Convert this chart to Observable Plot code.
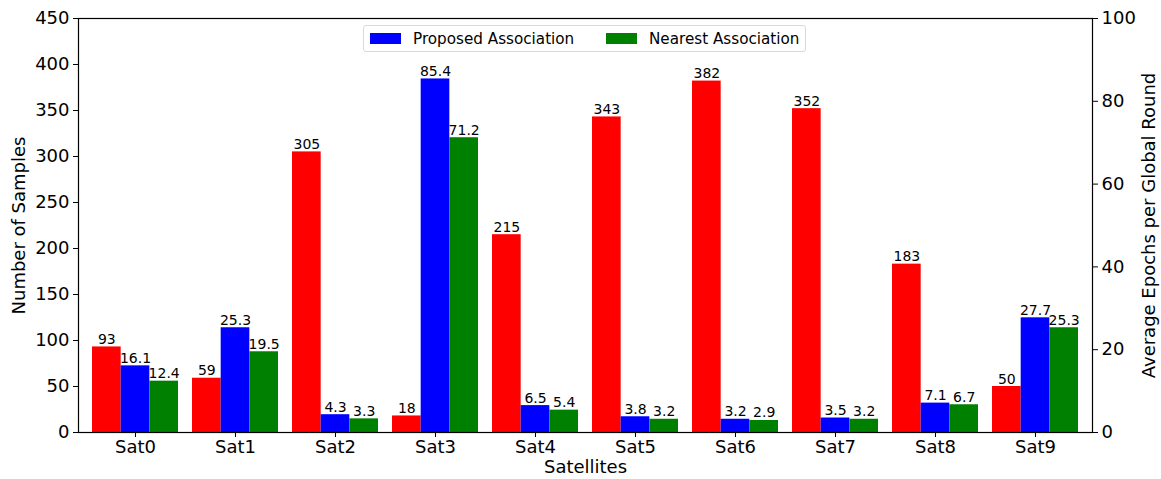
<!DOCTYPE html>
<html>
<head>
<meta charset="utf-8">
<script src="https://cdn.jsdelivr.net/npm/d3@7"></script>
<script src="https://cdn.jsdelivr.net/npm/@observablehq/plot@0.6"></script>
<style>
  html, body { margin: 0; padding: 0; background: #fff; }
  #wrap { position: relative; width: 1161px; height: 479px; font-family: "DejaVu Sans", sans-serif; }
  #legend { position: absolute; left: 363px; top: 25px; width: 443px; height: 27px; border: 1px solid #d9d9d9; border-radius: 3px; background: rgba(255,255,255,0.8); box-sizing: border-box; font-size: 15.2px; color: #000; }
  .item { position: absolute; top: 0; height: 25px; display: flex; align-items: center; }
  .sw { width: 31px; height: 11px; margin-right: 12px; }
</style>
</head>
<body>
<div id="wrap">
  <div id="chart"></div>
  <div id="legend"></div>
</div>
<script>
const satellites = ["Sat0","Sat1","Sat2","Sat3","Sat4","Sat5","Sat6","Sat7","Sat8","Sat9"];
const samples = [93, 59, 305, 18, 215, 343, 382, 352, 183, 50];
const proposed = [16.1, 25.3, 4.3, 85.4, 6.5, 3.8, 3.2, 3.5, 7.1, 27.7];
const nearest = [12.4, 19.5, 3.3, 71.2, 5.4, 3.2, 2.9, 3.2, 6.7, 25.3];
const leftTicks = [0, 50, 100, 150, 200, 250, 300, 350, 400, 450];
const rightTicks = [0, 20, 40, 60, 80, 100];
const seriesNames = ["Proposed Association", "Nearest Association"];
const colors = ["red", "blue", "green"];

const leftMax = 450, rightMax = 100;
const k = leftMax / rightMax; // map right-axis values into left-axis units

const rows = satellites.map((s, i) => ({sat: s, samples: samples[i], proposed: proposed[i], nearest: nearest[i]}));

const bw = 86 / 3;
function series(field, idx, scale, fmt) {
  const inL = idx * bw, inR = (2 - idx) * bw;
  return [
    Plot.barY(rows, {x: "sat", y: d => d[field] * scale, fill: colors[idx], insetLeft: inL, insetRight: inR}),
    Plot.text(rows, {x: "sat", y: d => d[field] * scale, text: d => fmt(d[field]), dx: (idx - 1) * bw, dy: -3, lineAnchor: "bottom", fontSize: 14, fill: "black"})
  ];
}

const chart = Plot.plot({
  width: 1161,
  height: 479,
  marginLeft: 78,
  marginRight: 69,
  marginTop: 18,
  marginBottom: 47,
  style: {fontFamily: "DejaVu Sans, sans-serif", fontSize: "16px", color: "black", background: "white"},
  x: {domain: satellites, padding: 0.14, label: null},
  y: {domain: [0, leftMax], label: null},
  marks: [
    ...series("samples", 0, 1, d => String(d)),
    ...series("proposed", 1, k, d => d.toFixed(1)),
    ...series("nearest", 2, k, d => d.toFixed(1)),
    Plot.frame({stroke: "black", strokeWidth: 1.2}),
    Plot.axisX({tickSize: 5, tickPadding: 3, fontSize: 18, tickFormat: d => d}),
    Plot.axisX({ticks: [], tickSize: 0, label: "Satellites", labelAnchor: "center", labelOffset: 40, labelArrow: "none", fontSize: 18}),
    Plot.axisY({ticks: leftTicks, tickSize: 5, tickPadding: 4, fontSize: 18}),
    Plot.axisY({ticks: [], tickSize: 0, label: "Number of Samples", labelAnchor: "center", labelOffset: 66, labelArrow: "none", fontSize: 18}),
    Plot.axisY({anchor: "right", ticks: rightTicks.map(v => v * k), tickFormat: v => String(Math.round(v / k)), tickSize: 5, tickPadding: 4, fontSize: 18}),
    Plot.axisY({anchor: "right", ticks: [], tickSize: 0, label: "Average Epochs per Global Round", labelAnchor: "center", labelOffset: 62, labelArrow: "none", fontSize: 18})
  ]
});
document.getElementById("chart").appendChild(chart);

const legend = document.getElementById("legend");
const xs = [6, 242];
seriesNames.forEach((name, i) => {
  const it = document.createElement("div");
  it.className = "item";
  it.style.left = xs[i] + "px";
  const sw = document.createElement("div");
  sw.className = "sw";
  sw.style.background = colors[i + 1];
  const t = document.createElement("span");
  t.textContent = name;
  it.appendChild(sw); it.appendChild(t);
  legend.appendChild(it);
});
</script>
</body>
</html>
